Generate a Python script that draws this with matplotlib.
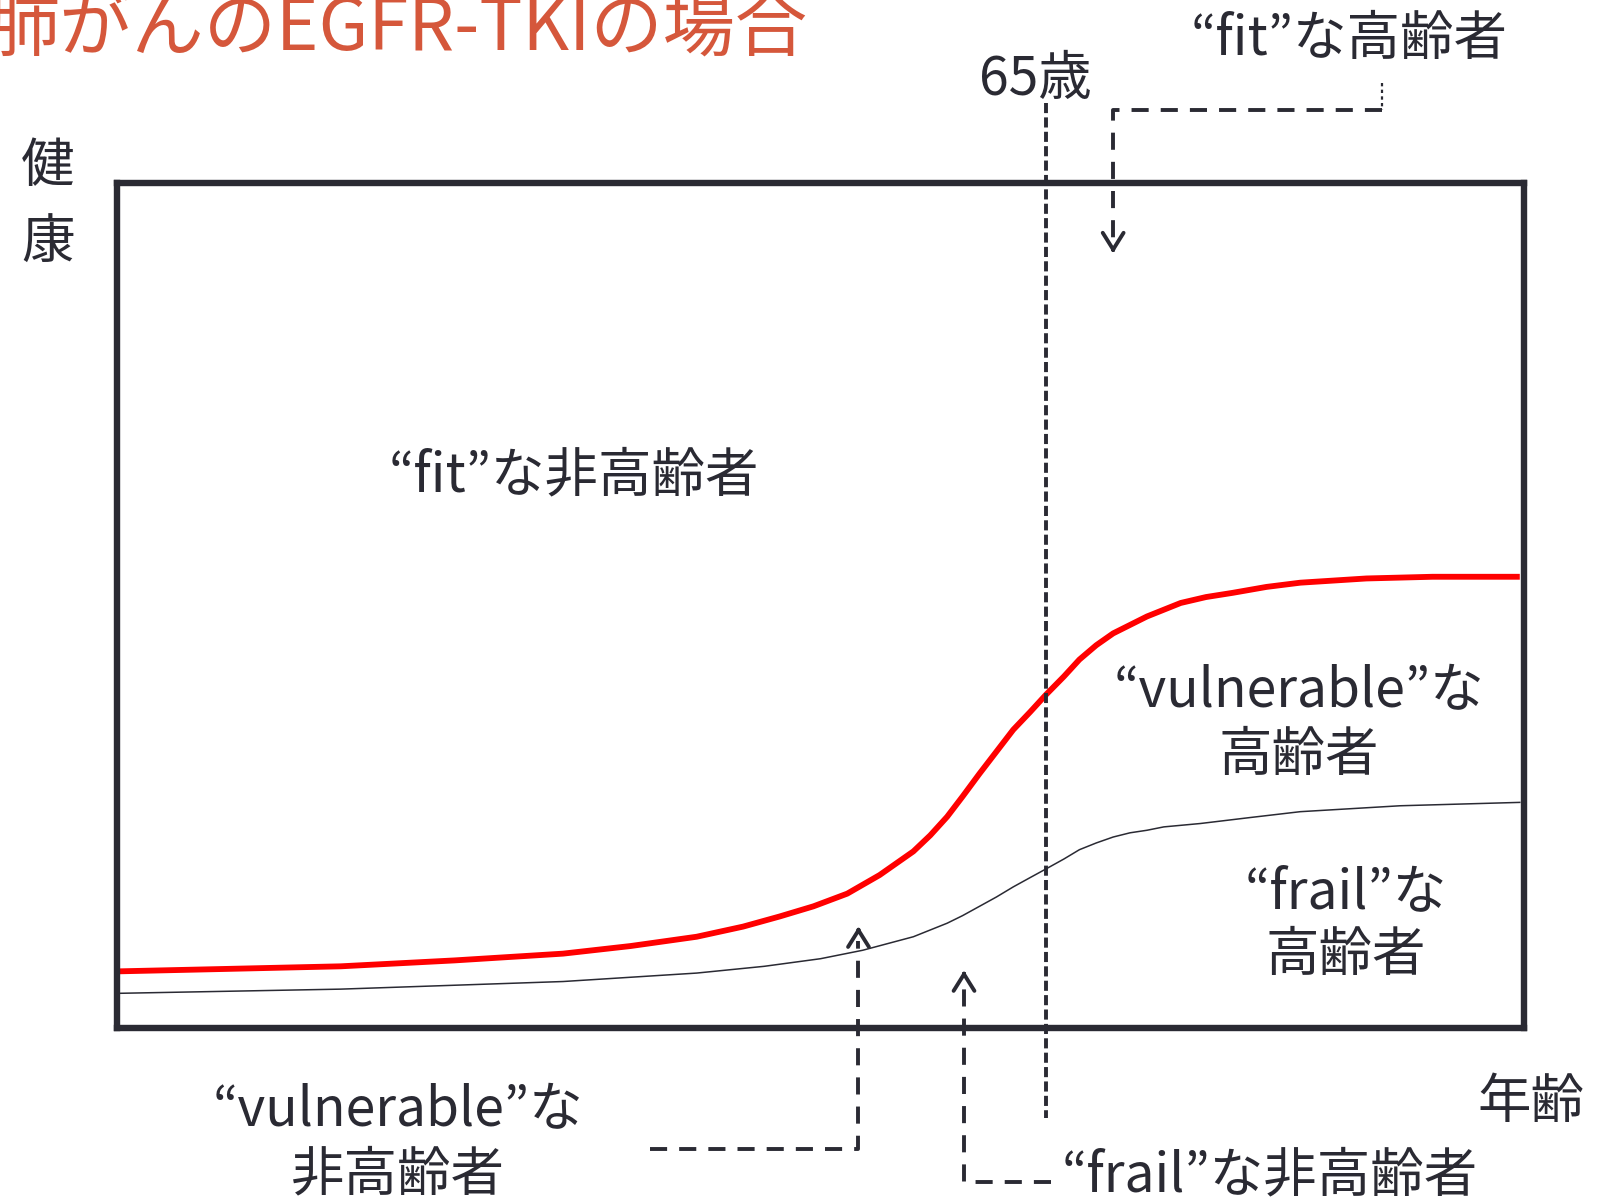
import numpy as np
import matplotlib.pyplot as plt

plt.rcParams['font.family'] = ['Noto Sans CJK JP', 'DejaVu Sans']

ink = '#2a2a33'
title_color = '#d5573b'

# age (x) / health (y) on a 0-100 scale inside the frame
red_age = [0.0, 8.0, 15.9, 24.0, 31.7, 36.5, 41.2, 44.5, 47.1, 49.5, 51.9,
           54.2, 56.6, 57.8, 59.0, 60.1, 61.3, 62.5, 63.7, 64.9, 66.0, 67.3,
           68.4, 69.6, 70.8, 72.0, 73.2, 74.4, 75.6, 77.4, 79.3, 81.7, 84.1,
           88.8, 93.5, 99.7]
red_health = [6.7, 7.0, 7.3, 8.0, 8.8, 9.7, 10.8, 12.0, 13.2, 14.4, 15.9,
              18.1, 20.9, 22.8, 25.0, 27.4, 30.1, 32.7, 35.3, 37.4, 39.4, 41.6,
              43.6, 45.3, 46.7, 47.7, 48.7, 49.5, 50.3, 51.0, 51.5, 52.2, 52.7,
              53.2, 53.4, 53.4]

frail_age = [0.0, 15.9, 31.7, 41.2, 46.0, 50.0, 53.0, 56.6, 57.8, 59.0, 60.1,
             61.3, 62.5, 63.7, 64.9, 66.0, 67.3, 68.4, 69.6, 70.8, 72.0, 73.2,
             74.4, 77.0, 80.5, 84.1, 91.2, 99.7]
frail_health = [4.1, 4.6, 5.5, 6.5, 7.3, 8.2, 9.2, 10.8, 11.6, 12.4, 13.3,
                14.4, 15.5, 16.7, 17.8, 18.8, 20.0, 21.1, 21.9, 22.6, 23.1,
                23.4, 23.8, 24.2, 24.9, 25.6, 26.3, 26.7]

age_65 = 66.0

fig = plt.figure(figsize=(16.01, 12.01), dpi=100)
ax = fig.add_axes([117 / 1601, 173 / 1201, 1407 / 1601, 845 / 1201])
ax.set_xlim(0, 100)
ax.set_ylim(0, 100)
ax.set_xticks([])
ax.set_yticks([])
for s in ax.spines.values():
    s.set_linewidth(4.6)
    s.set_color(ink)

ax.plot(red_age, red_health, color='#ff0000', lw=4.2,
        solid_joinstyle='round', solid_capstyle='butt')
ax.plot(frail_age, frail_health, color=ink, lw=1.1, solid_joinstyle='round')

# 65 years line
ax.plot([age_65, age_65], [109.5, -10.6], color=ink, lw=2.8,
        dashes=(2.6, 1.1), clip_on=False)

dash = dict(color=ink, lw=2.8, dashes=(4.4, 3.1), clip_on=False)
head = dict(arrowstyle='->,head_length=1.2,head_width=0.75', color=ink,
            lw=2.8, shrinkA=0, shrinkB=0, mutation_scale=10)

# fit elderly pointer
ax.plot([89.9, 89.9], [111.8, 108.6], color=ink, lw=1.6, dashes=(1.5, 1.5),
        clip_on=False)
ax.plot([89.9, 70.8, 70.8], [108.6, 108.6, 93.4], **dash)
ax.annotate('', xy=(70.8, 91.7), xytext=(70.8, 92.3), arrowprops=head,
            annotation_clip=False)

# vulnerable non-elderly pointer
ax.plot([37.9, 52.7, 52.7], [-14.3, -14.3, 10.3], **dash)
ax.annotate('', xy=(52.7, 12.0), xytext=(52.7, 11.4), arrowprops=head,
            annotation_clip=False)

# frail non-elderly pointer
ax.plot([66.4, 60.2, 60.2], [-18.2, -18.2, 5.1], **dash)
ax.annotate('', xy=(60.2, 6.8), xytext=(60.2, 6.2), arrowprops=head,
            annotation_clip=False)

txt = dict(color=ink, fontsize=38.5, ha='center', va='center', clip_on=False)
ax.text(65.3, 112.2, '65歳', **txt)
ax.text(87.6, 117.0, '“fit”な高齢者', **txt)
ax.text(32.5, 65.3, '“fit”な非高齢者', **txt)
ax.text(84.0, 36.0, '“vulnerable”な\n高齢者', linespacing=1.2, **txt)
ax.text(87.3, 12.3, '“frail”な\n高齢者', linespacing=1.2, **txt)
ax.text(20.0, -13.6, '“vulnerable”な\n非高齢者', linespacing=1.2, **txt)
ax.text(81.9, -17.5, '“frail”な非高齢者', **txt)
ax.text(-4.9, 102.0, '健', **txt)
ax.text(-4.9, 92.8, '康', **txt)
ax.text(100.5, -8.8, '年齢', **txt)

fig.text(-12, 1201 - 49, '肺がんのEGFR-TKIの場合', color=title_color,
         fontsize=52, ha='left', va='baseline', transform=None)

fig.savefig('out.png', dpi=100)
